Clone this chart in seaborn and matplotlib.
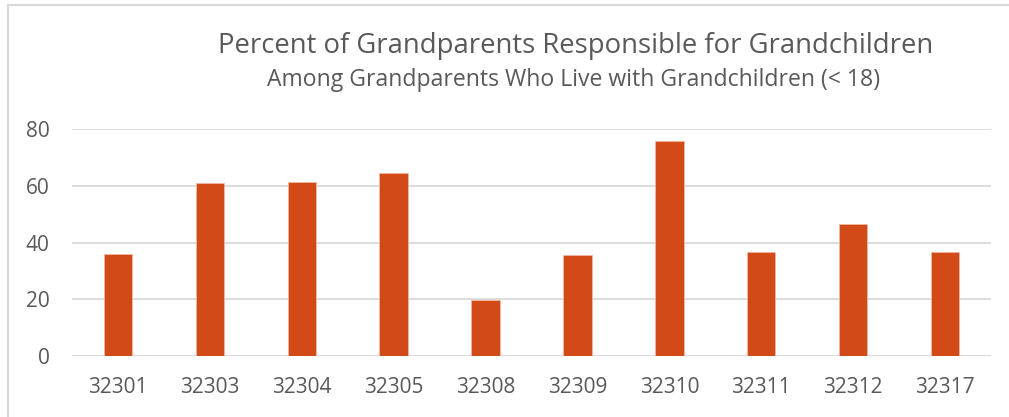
import matplotlib
matplotlib.use("Agg")
import matplotlib.pyplot as plt
import seaborn as sns
import pandas as pd
from matplotlib.patches import Rectangle

categories = ["32301", "32303", "32304", "32305", "32308", "32309", "32310", "32311", "32312", "32317"]
values = [35.9, 61.1, 61.4, 64.6, 19.7, 35.5, 75.9, 36.5, 46.6, 36.7]
y_ticks = [0, 20, 40, 60, 80]

title = "Percent of Grandparents Responsible for Grandchildren"
subtitle = "Among Grandparents Who Live with Grandchildren (< 18)"

sns.set_theme(style="white")
plt.rcParams['font.family'] = ['Open Sans', 'DejaVu Sans']

TEXT = "#595959"
GRID = "#D9D9D9"
BAR = "#D24A18"

df = pd.DataFrame({"zip": categories, "pct": values})

fig = plt.figure(figsize=(10.09, 4.17), dpi=100)
ax = fig.add_axes([72 / 1009, 1 - 356 / 417, (991 - 72) / 1009, (356 - 129) / 417])

sns.barplot(data=df, x="zip", y="pct", color=BAR, width=0.31, saturation=1, ax=ax,
            edgecolor="#F0B8A0", linewidth=0.6)

ax.set_ylim(0, 80)
ax.set_yticks(y_ticks)
ax.set_xlim(-0.5, len(categories) - 0.5)
ax.set_xlabel("")
ax.set_ylabel("")
for s in ax.spines.values():
    s.set_visible(False)
ax.yaxis.grid(True, color=GRID, linewidth=1.3)
ax.set_axisbelow(True)
ax.axhline(0, color=GRID, linewidth=1.5, zorder=0.5)
ax.tick_params(axis="both", length=0, colors=TEXT, labelsize=15)
ax.tick_params(axis="y", pad=16)
ax.tick_params(axis="x", pad=15)

fig.text(576 / 1009, 1 - 46 / 417, title, ha="center", va="center", fontsize=19.8, color=TEXT)
fig.text(574 / 1009, 1 - 80 / 417, subtitle, ha="center", va="center", fontsize=16.6, color=TEXT)

fig.patches.append(Rectangle((8 / 1009, -0.1), 1.2, 1 - 5 / 417 + 0.1, transform=fig.transFigure,
                             fill=False, edgecolor="#D9D9D9", linewidth=1.5, zorder=0))

fig.savefig("out.png", dpi=100)
